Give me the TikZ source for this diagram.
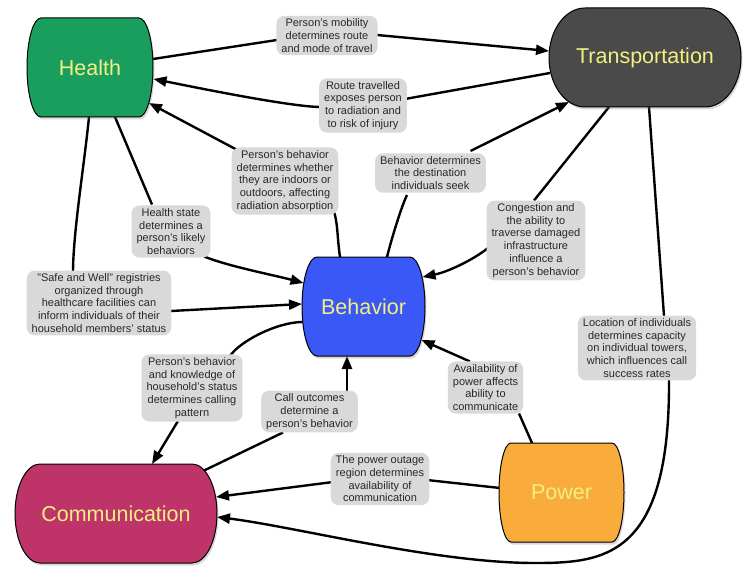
\documentclass[tikz,border=0pt]{standalone}
\usepackage{fontspec}
\setmainfont{Liberation Sans}
\usetikzlibrary{arrows.meta,shadows,calc}
\definecolor{hgreen}{RGB}{26,158,94}
\definecolor{tgray}{RGB}{74,74,74}
\definecolor{bblue}{RGB}{58,88,245}
\definecolor{cmag}{RGB}{190,52,104}
\definecolor{porange}{RGB}{249,172,60}
\definecolor{ttext}{RGB}{242,240,128}
\definecolor{labgray}{RGB}{217,217,217}
\definecolor{labtext}{RGB}{40,40,40}
\pgfdeclarelayer{bg}
\pgfsetlayers{bg,main}
% cx cy hw hh r style
\newcommand\barrelshape[6]{%
  \fill[#6] (#1-#3+#5,#2-#4) -- (#1+#3-#5,#2-#4)
    .. controls (#1+#3-0.448*#5,#2-#4) and (#1+#3,#2-0.552*#4) .. (#1+#3,#2)
    .. controls (#1+#3,#2+0.552*#4) and (#1+#3-0.448*#5,#2+#4) .. (#1+#3-#5,#2+#4)
    -- (#1-#3+#5,#2+#4)
    .. controls (#1-#3+0.448*#5,#2+#4) and (#1-#3,#2+0.552*#4) .. (#1-#3,#2)
    .. controls (#1-#3,#2-0.552*#4) and (#1-#3+0.448*#5,#2-#4) .. (#1-#3+#5,#2-#4)
    -- cycle;}
\tikzset{
  shapefill/.style={draw=black, line width=1pt, fill=#1,
    drop shadow={opacity=0.3, shadow xshift=1.5pt, shadow yshift=-2.5pt}},
  shapetext/.style={inner sep=0pt, text=ttext, font=\fontsize{21.5}{24}\selectfont},
  lab/.style={fill=labgray, rounded corners=8pt, align=center, inner xsep=5pt,
    inner ysep=3pt, text=labtext, font=\fontsize{11}{12.7}\selectfont},
  conn/.style={line width=2.4pt, black},
  arr/.style={conn, -{Triangle[length=13pt,width=10pt]}}
}
\begin{document}
\begin{tikzpicture}[x=1pt,y=-1pt]
\useasboundingbox (0,0) rectangle (744,567);
% main shapes
\barrelshape{90}{67.5}{63}{49.5}{14}{shapefill=hgreen}
\node[shapetext, minimum width=126pt, minimum height=99pt] (health) at (90,67.5) {Health};
\barrelshape{645}{57.5}{96}{49.5}{36}{shapefill=tgray}
\node[shapetext, minimum width=192pt, minimum height=99pt] (trans) at (645,57.5) {Transportation};
\barrelshape{363.5}{306.5}{61.5}{49.5}{15}{shapefill=bblue}
\node[shapetext, minimum width=123pt, minimum height=99pt] (beh) at (363.5,306.5) {Behavior};
\barrelshape{116}{513.5}{101}{49.5}{25}{shapefill=cmag}
\node[shapetext, minimum width=202pt, minimum height=99pt] (comm) at (116,513.5) {Communication};
\barrelshape{561.5}{492.5}{62.5}{49.5}{12}{shapefill=porange}
\node[shapetext, minimum width=125pt, minimum height=99pt] (power) at (561.5,492.5) {Power};
% labels
\node[lab] (l1) at (327,35.5) {Person's mobility\\determines route\\and mode of travel};
\node[lab] (l2) at (363,105.5) {Route travelled\\exposes person\\to radiation and\\to risk of injury};
\node[lab] (l3) at (285,181) {Person's behavior\\determines whether\\they are indoors or\\outdoors, affecting\\radiation absorption};
\node[lab] (l4) at (430.5,173) {Behavior determines\\the destination\\individuals seek};
\node[lab] (l5) at (536,240.5) {Congestion and\\the ability to\\traverse damaged\\infrastructure\\influence a\\person's behavior};
\node[lab] (l6) at (171,231.5) {Health state\\determines a\\person's likely\\behaviors};
\node[lab] (l7) at (99,303) {"Safe and Well" registries\\organized through\\healthcare facilities can\\inform individuals of their\\household members' status};
\node[lab] (l8) at (637,348) {Location of individuals\\determines capacity\\on individual towers,\\which influences call\\success rates};
\node[lab] (l9) at (192,388) {Person's behavior\\and knowledge of\\household's status\\determines calling\\pattern};
\node[lab] (l10) at (309.5,411.5) {Call outcomes\\determine a\\person's behavior};
\node[lab] (l11) at (485.5,387.5) {Availability of\\power affects\\ability to\\communicate};
\node[lab] (l12) at (380,479) {The power outage\\region determines\\availability of\\communication};
\coordinate (lb) at (535,563);
% connectors
\begin{pgfonlayer}{bg}
\draw[conn] ($(health)+(63,-8.5)$) -- ($(l1)+(-50,4.5)$);
\draw[arr] ($(l1)+(50,-0.5)$) -- ($(trans)+(-96,-6.5)$);
\draw[conn] ($(trans)+(-95,15.5)$) -- ($(l2)+(42,-6.5)$);
\draw[arr] ($(l2)+(-42,1.5)$) .. controls +(-30,0) and +(40,8) .. ($(health)+(63.5,11.5)$);
\draw[conn] ($(beh)+(-23.5,-49.5)$) .. controls +(-3,-20) and +(5,12) .. ($(l3)+(48,28)$);
\draw[arr] ($(l3)+(-44,-29)$) -- ($(health)+(59,35.5)$);
\draw[conn] ($(beh)+(23.5,-49.5)$) .. controls +(5,-20) and +(-5,10) .. ($(l4)+(-23.5,22)$);
\draw[arr] ($(l4)+(40,-22)$) -- ($(trans)+(-76,44.5)$);
\draw[conn] ($(trans)+(-36,49.5)$) -- ($(l5)+(-2,-40)$);
\draw[arr] ($(l5)+(-48,7.5)$) .. controls +(-15,12) and +(25,-5) .. ($(beh)+(59,-29.5)$);
\draw[conn] ($(health)+(25,49.5)$) -- ($(l6)+(-19,-27)$);
\draw[arr] ($(l6)+(33,25)$) .. controls +(25,10) and +(-30,-8) .. ($(beh)+(-60,-23.5)$);
\draw[conn] ($(health)+(-1,49.5)$) .. controls +(-5,50) and +(0,-40) .. ($(l7)+(-26,-30)$);
\draw[arr] ($(l7)+(72,8)$) -- ($(beh)+(-61.5,-2.5)$);
\draw[conn] ($(beh)+(-61,15.5)$) .. controls +(-25,0) and +(10,-15) .. ($(l9)+(38,-32)$);
\draw[arr] ($(l9)+(-14,33)$) -- ($(comm)+(36,-49.5)$);
\draw[conn] ($(comm)+(86,-42)$) -- ($(l10)+(-26.5,21)$);
\draw[arr] ($(l10)+(37.5,-20)$) -- ($(beh)+(-16.5,49.5)$);
\draw[conn] ($(power)+(-29.5,-49.5)$) -- ($(l11)+(33.5,26)$);
\draw[arr] ($(l11)+(-15.5,-26)$) -- ($(beh)+(58,33.5)$);
\draw[conn] ($(power)+(-61.5,-4.5)$) -- ($(l12)+(47,1)$);
\draw[arr] ($(l12)+(-47,3)$) -- ($(comm)+(100,-16.5)$);
\draw[conn] ($(trans)+(4,49.5)$) -- ($(l8)+(27,-32)$);
\draw[arr] ($(l8)+(32,32)$) .. controls +(1,177) and +(70,0) .. (lb)
  .. controls +(-100,0) and +(80,10) .. ($(comm)+(101,3.5)$);
\end{pgfonlayer}
\end{tikzpicture}
\end{document}
